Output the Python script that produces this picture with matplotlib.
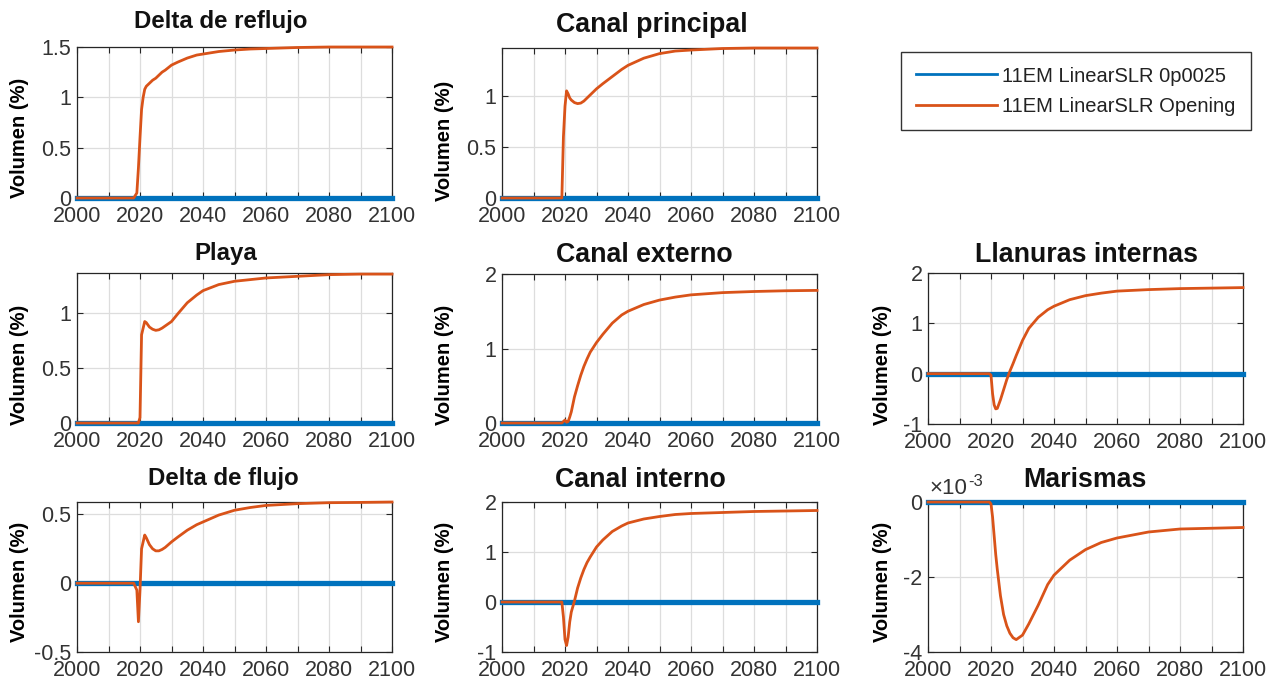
import matplotlib.pyplot as plt
from matplotlib.ticker import MultipleLocator, FuncFormatter
from matplotlib.lines import Line2D

plt.rcParams['font.family'] = ['Liberation Sans', 'DejaVu Sans']
plt.rcParams['axes.unicode_minus'] = False

# ---- data ----
years = [2000, 2010, 2018, 2019, 2019.5, 2020, 2020.5, 2021, 2021.5, 2022,
         2023, 2024, 2025, 2026, 2027, 2028, 2030, 2032, 2035, 2038,
         2040, 2045, 2050, 2055, 2060, 2070, 2080, 2090, 2100]

base_0p0025 = [0, 0, 0, 0, 0, 0, 0, 0, 0, 0,
               0, 0, 0, 0, 0, 0, 0, 0, 0, 0,
               0, 0, 0, 0, 0, 0, 0, 0, 0]

delta_reflujo = [0, 0, 0, 0.05, 0.3, 0.6, 0.88, 1.0, 1.08, 1.11,
                 1.14, 1.17, 1.19, 1.22, 1.25, 1.27, 1.32, 1.35, 1.39, 1.42,
                 1.43, 1.455, 1.47, 1.48, 1.485, 1.495, 1.5, 1.5, 1.5]
canal_principal = [0, 0, 0, 0, 0.6, 0.9, 1.05, 1.02, 0.98, 0.96,
                   0.935, 0.925, 0.93, 0.95, 0.98, 1.01, 1.07, 1.12, 1.19, 1.26,
                   1.30, 1.37, 1.415, 1.44, 1.45, 1.465, 1.47, 1.47, 1.47]
playa = [0, 0, 0, 0, 0, 0.05, 0.8, 0.86, 0.92, 0.91,
         0.87, 0.85, 0.84, 0.845, 0.86, 0.88, 0.92, 0.99, 1.09, 1.16,
         1.2, 1.255, 1.285, 1.30, 1.315, 1.33, 1.345, 1.35, 1.35]
canal_externo = [0, 0, 0, 0, 0.02, 0.04, 0.01, 0.02, 0.08, 0.15,
                 0.35, 0.5, 0.64, 0.76, 0.86, 0.95, 1.08, 1.19, 1.34, 1.45,
                 1.5, 1.59, 1.65, 1.69, 1.72, 1.75, 1.765, 1.775, 1.78]
llanuras_internas = [0, 0, 0, 0, 0, -0.03, -0.4, -0.62, -0.7, -0.69,
                     -0.52, -0.32, -0.12, 0.05, 0.2, 0.36, 0.66, 0.9, 1.12, 1.27,
                     1.34, 1.47, 1.55, 1.6, 1.64, 1.67, 1.69, 1.7, 1.71]
delta_flujo = [0, 0, 0, -0.05, -0.28, -0.05, 0.25, 0.3, 0.35, 0.33,
               0.28, 0.25, 0.235, 0.235, 0.245, 0.26, 0.3, 0.335, 0.385, 0.425,
               0.445, 0.495, 0.53, 0.55, 0.565, 0.578, 0.585, 0.587, 0.59]
canal_interno = [0, 0, 0, 0, -0.3, -0.75, -0.87, -0.7, -0.4, -0.2,
                 0.02, 0.28, 0.48, 0.65, 0.79, 0.9, 1.1, 1.24, 1.41, 1.52,
                 1.58, 1.66, 1.71, 1.75, 1.77, 1.79, 1.81, 1.82, 1.83]
# marismas in units of 1e-3 %
marismas_e3 = [0, 0, 0, 0, 0, -0.05, -0.4, -0.9, -1.4, -1.8,
               -2.5, -3.0, -3.3, -3.5, -3.62, -3.67, -3.55, -3.25, -2.75, -2.2,
               -1.95, -1.55, -1.27, -1.08, -0.96, -0.8, -0.72, -0.7, -0.68]
marismas = [v * 1e-3 for v in marismas_e3]

labels = ['11EM LinearSLR 0p0025', '11EM LinearSLR Opening']
blue = '#0072BD'
orange = '#D95319'

# ---- layout (pixels) ----
W, H = 1279, 686
fig = plt.figure(figsize=(W / 100, H / 100), dpi=100)

# title, series, left, top, bottom, ylim, ytick step, title size, title centre x, title baseline y, ylabel right x, ylabel frac
panels = [
    ('Delta de reflujo', delta_reflujo, 77, 47, 198, (0, 1.5), 0.5, 17.3, 221, 28, 29, 0.40),
    ('Canal principal', canal_principal, 502, 48, 198, (0, 1.47), 0.5, 19.3, 652, 32, 454, 0.38),
    ('Playa', playa, 77, 273, 423, (0, 1.36), 0.5, 17.3, 226, 260, 29, 0.39),
    ('Canal externo', canal_externo, 502, 274, 423, (0, 2), 1, 19.3, 644, 262, 454, 0.39),
    ('Llanuras internas', llanuras_internas, 928, 273, 424, (-1, 2), 1, 19.3, 1087, 262, 892, 0.39),
    ('Delta de flujo', delta_flujo, 77, 502, 652, (-0.5, 0.59), 0.5, 17.3, 223, 485, 29, 0.47),
    ('Canal interno', canal_interno, 502, 502, 652, (-1, 2), 1, 19.3, 640, 487, 454, 0.47),
    ('Marismas', marismas, 928, 502, 652, (-4e-3, 0), 2e-3, 19.3, 1085, 487, 892, 0.47),
]
AX_W = 315

for (title, series, left, top, bottom, ylim, ystep, tsize, tx, ty, ylx, ylf) in panels:
    h = bottom - top
    ax = fig.add_axes([left / W, 1 - bottom / H, AX_W / W, h / H])
    ax.plot(years, base_0p0025, color=blue, lw=3.8, clip_on=False, zorder=3)
    ax.plot(years, series, color=orange, lw=2.0, clip_on=False, zorder=4)
    ax.set_xlim(2000, 2100)
    ax.set_ylim(*ylim)
    ax.xaxis.set_major_locator(MultipleLocator(20))
    ax.xaxis.set_minor_locator(MultipleLocator(10))
    ax.yaxis.set_major_locator(MultipleLocator(ystep))
    if title == 'Marismas':
        ax.yaxis.set_major_formatter(FuncFormatter(lambda v, _: f'{v * 1e3:g}'))
        ax.text(0.005, 1.02, '×10', transform=ax.transAxes, ha='left', va='bottom',
                fontsize=16, color='#333333')
        ax.text(0.128, 1.09, '-3', transform=ax.transAxes, ha='left', va='bottom',
                fontsize=12, color='#333333')
    else:
        ax.yaxis.set_major_formatter(FuncFormatter(lambda v, _: f'{v:g}'))
    ax.grid(True, which='both', axis='x', color='#dddddd', lw=0.9)
    ax.grid(True, which='major', axis='y', color='#dddddd', lw=0.9)
    ax.set_axisbelow(True)
    ax.tick_params(which='both', direction='in', top=True, right=True,
                   length=4, width=0.8, color='#262626',
                   labelsize=15.5, labelcolor='#333333')
    ax.tick_params(axis='x', pad=6)
    ax.tick_params(axis='y', pad=4)
    for s in ax.spines.values():
        s.set_color('#262626')
        s.set_linewidth(0.9)
    ax.set_ylabel('Volumen (%)', fontsize=14.5, fontweight='bold', color='black')
    ax.yaxis.set_label_coords((ylx - left) / AX_W, ylf)
    ax.text((tx - left) / AX_W, (bottom - ty) / h, title, transform=ax.transAxes,
            ha='center', va='baseline', fontsize=tsize, fontweight='bold', color='#111111')

handles = [Line2D([], [], color=blue, lw=2), Line2D([], [], color=orange, lw=2)]
leg = fig.legend(handles, labels, loc='upper left',
                 bbox_to_anchor=(901 / W, 1 - 128 / H, 350 / W, 76 / H),
                 mode='expand', fontsize=14.5, frameon=True, fancybox=False,
                 edgecolor='black', handlelength=4.05, handletextpad=0.25,
                 labelspacing=0.55, borderpad=0.72, borderaxespad=0)
leg.get_frame().set_linewidth(1.0)
for t in leg.get_texts():
    t.set_color('#222222')

fig.savefig('out.png', dpi=100)
